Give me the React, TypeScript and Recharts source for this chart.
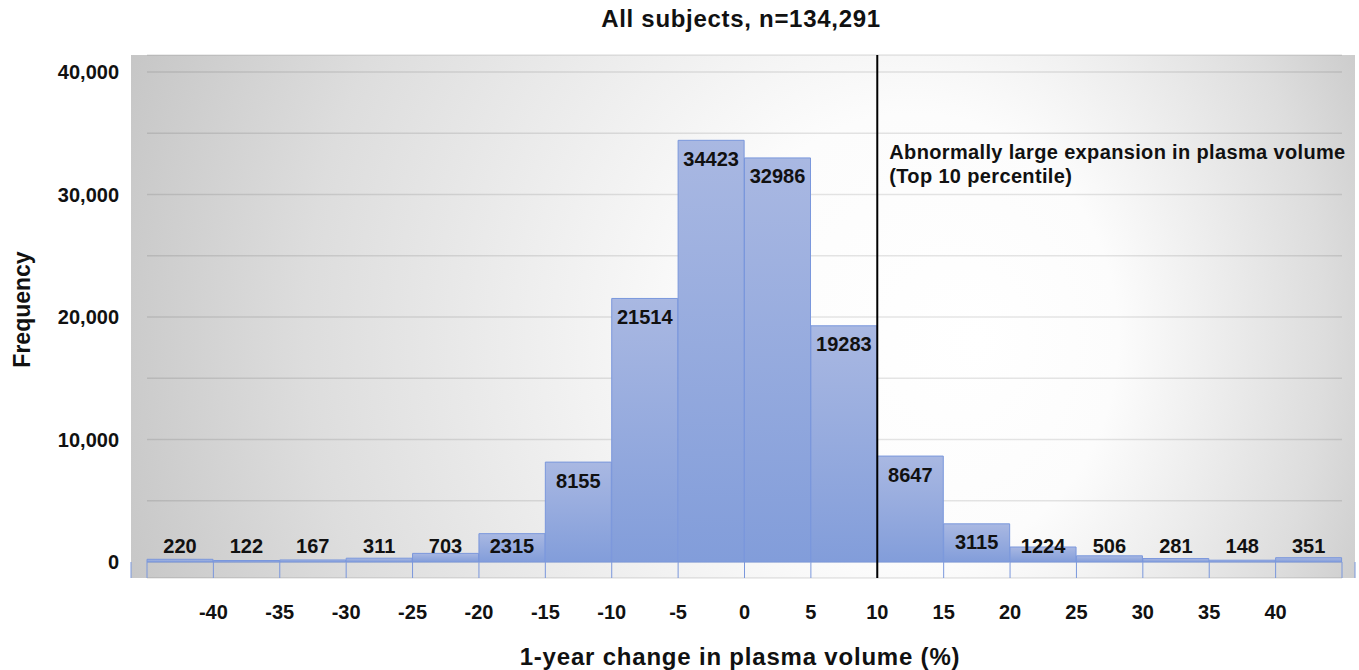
import React from 'react';
import { BarChart, Bar, XAxis, YAxis, CartesianGrid, ReferenceLine } from 'recharts';

// ---- data ----
const binStarts = [-45, -40, -35, -30, -25, -20, -15, -10, -5, 0, 5, 10, 15, 20, 25, 30, 35, 40];
const counts = [220, 122, 167, 311, 703, 2315, 8155, 21514, 34423, 32986, 19283, 8647, 3115, 1224, 506, 281, 148, 351];
const xBoundaries = [-45, -40, -35, -30, -25, -20, -15, -10, -5, 0, 5, 10, 15, 20, 25, 30, 35, 40, 45];
const xLabelled = [-40, -35, -30, -25, -20, -15, -10, -5, 0, 5, 10, 15, 20, 25, 30, 35, 40];
const yGridTicks = [0, 5000, 10000, 15000, 20000, 25000, 30000, 35000, 40000];
const yLabelled = [0, 10000, 20000, 30000, 40000];
const cutoff = 10;
const titleText = 'All subjects, n=134,291';
const xTitle = '1-year change in plasma volume (%)';
const yTitle = 'Frequency';
const annotLines = ['Abnormally large expansion in plasma volume', '(Top 10 percentile)'];

const data = binStarts.map((s, i) => ({ bin: String(s), start: s, count: counts[i] }));

const FONT = '"Liberation Sans", Arial, Helvetica, sans-serif';

const renderBarLabel = (p: any) => {
  const { x, y, width, height, value } = p;
  const cy = Math.min(y + 18.5, y + height - 16);
  return (
    <text x={x + width / 2} y={cy} textAnchor="middle" dominantBaseline="central"
      fontFamily={FONT} fontWeight={700} fontSize={20} fill="#111">{value}</text>
  );
};

const renderH = (p: any) => (
  <line key={`h-${p.index}`} x1={p.x1 + 16} x2={p.x2 - 13} y1={p.y1} y2={p.y2} stroke="#000" strokeOpacity={0.1} strokeWidth={1.5} />
);
const renderV = (p: any) => (
  <line key={`v-${p.index}`} x1={p.x1} x2={p.x2} y1={p.y2 - 16} y2={p.y2} stroke="#7a97dc" strokeWidth={1} />
);

const renderAnnot = (p: any) => {
  const vb = p.viewBox || {};
  return (
    <text x={vb.x + 12} fontFamily={FONT} fontWeight={700} fontSize={20} letterSpacing={0.35} fill="#111">
      {annotLines.map((t, i) => (
        <tspan key={i} x={vb.x + 12} y={vb.y + 97 + i * 24} dominantBaseline="central">{t}</tspan>
      ))}
    </text>
  );
};

const renderYTitle = (p: any) => {
  const vb = p.viewBox || {};
  const x = vb.x + 22;
  const y = vb.y + vb.height / 2 - 7;
  return (
    <text x={x} y={y} transform={`rotate(-90 ${x} ${y})`} textAnchor="middle" dominantBaseline="central"
      fontFamily={FONT} fontWeight={700} fontSize={23} fill="#111">{yTitle}</text>
  );
};

const renderXTitle = (p: any) => {
  const vb = p.viewBox || {};
  return (
    <text x={vb.x + vb.width / 2 - 3} y={vb.y + 78} textAnchor="middle" dominantBaseline="central"
      fontFamily={FONT} fontWeight={700} fontSize={24} letterSpacing={0.8} fill="#111">{xTitle}</text>
  );
};

export default function App() {
  return (
    <div style={{ position: 'absolute', left: 0, top: 0, width: 1359, height: 670, background: '#fff' }}>
      <svg width={0} height={0} style={{ position: 'absolute' }}>
        <defs>
          <radialGradient id="bgGrad" gradientUnits="userSpaceOnUse" cx={760} cy={330} r={680} fx={980} fy={340}
            gradientTransform="translate(760 330) scale(1 1.1) translate(-760 -330)">
            <stop offset="0" stopColor="#ffffff" />
            <stop offset="0.3" stopColor="#fcfcfc" />
            <stop offset="0.75" stopColor="#dddddd" />
            <stop offset="1" stopColor="#c6c6c6" />
          </radialGradient>
          <linearGradient id="barGrad" x1="0" y1="0" x2="0" y2="1">
            <stop offset="0" stopColor="#a9b8e2" />
            <stop offset="1" stopColor="#829dda" />
          </linearGradient>
        </defs>
      </svg>
      <div style={{ position: 'absolute', left: 441, top: 0, width: 600, height: 38, lineHeight: '38px', textAlign: 'center',
        fontFamily: FONT, fontWeight: 700, fontSize: 24, letterSpacing: 0.7, color: '#111' }}>{titleText}</div>
      <BarChart width={1359} height={670} data={data} margin={{ top: 55, right: 4, bottom: 0, left: 0 }}
        barCategoryGap={0} barGap={0}>
        <CartesianGrid xAxisId="num" yAxisId="y" fill="url(#bgGrad)" fillOpacity={1}
          horizontal={renderH} vertical={renderV} />
        <XAxis xAxisId="bins" dataKey="bin" type="category" hide height={0} padding={{ left: 16, right: 13 }} />
        <XAxis xAxisId="num" dataKey="start" type="number" domain={[-45, 45]} allowDataOverflow ticks={xBoundaries} interval={0}
          padding={{ left: 16, right: 13 }} height={92} tickLine={false} axisLine={false} tickSize={0} tickMargin={27}
          tickFormatter={(v: number) => (xLabelled.includes(v) ? String(v) : '')}
          tick={{ fill: '#111', fontSize: 20, fontWeight: 700, fontFamily: FONT }}
          label={renderXTitle} />
        <YAxis yAxisId="y" type="number" domain={[-1306, 41388]} ticks={yGridTicks} interval={0} allowDataOverflow
          width={131} tickSize={0} tickMargin={12} axisLine={false} tickLine={false}
          tickFormatter={(v: number) => (yLabelled.includes(v) ? v.toLocaleString('en-US') : '')}
          tick={{ fill: '#111', fontSize: 20, fontWeight: 700, fontFamily: FONT }}
          label={renderYTitle} />
        <Bar xAxisId="bins" yAxisId="y" dataKey="count" fill="url(#barGrad)" stroke="#7a97dc" strokeWidth={1}
          isAnimationActive={false} label={renderBarLabel} />
        <ReferenceLine xAxisId="num" yAxisId="y" x={cutoff} stroke="#000" strokeWidth={2} label={renderAnnot} />
      </BarChart>
    </div>
  );
}
